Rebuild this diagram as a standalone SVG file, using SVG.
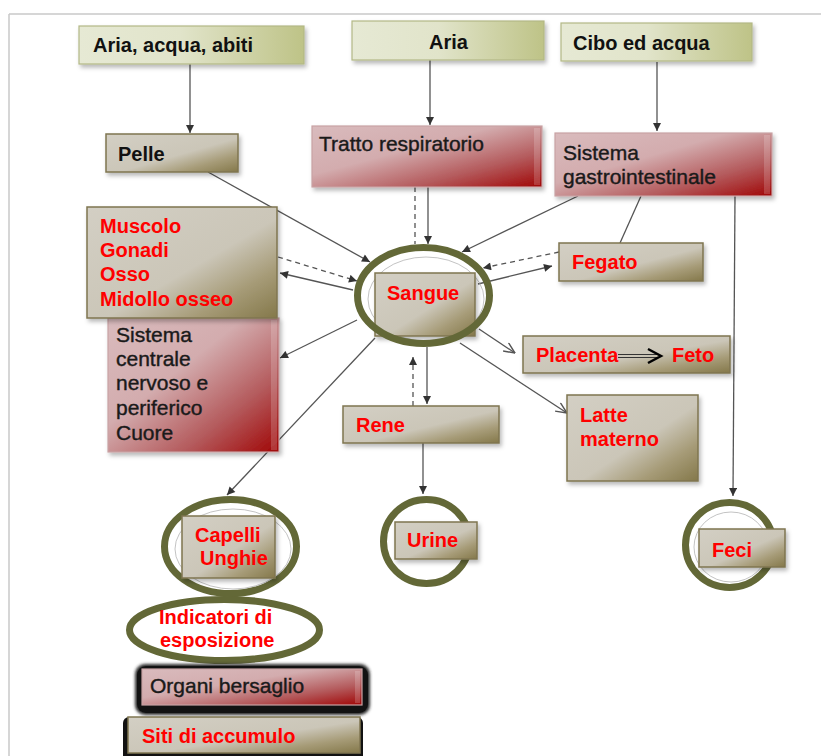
<svg xmlns="http://www.w3.org/2000/svg" width="821" height="756" viewBox="0 0 821 756">
<style>
.hd{font-family:"Liberation Sans",Arial,sans-serif;font-size:20px;font-weight:bold;fill:#111}
.rt{font-family:"Liberation Sans",Arial,sans-serif;font-size:20px;font-weight:bold;fill:#ff0000}
.bk{font-family:"Liberation Sans",Arial,sans-serif;font-size:21px;fill:#1a1a1a;stroke:#1a1a1a;stroke-width:0.4}
.green{fill:url(#gGreen);stroke:#b3b886;stroke-width:1.2}
.tan{fill:url(#gTan);stroke:#7f7550;stroke-width:1.5}
.red{fill:url(#gRed);stroke:#c9a2a4;stroke-width:1.2}
.ring{fill:none;stroke:#636837;stroke-width:7}
.inner{fill:none;stroke:#b4b4b4;stroke-width:1;opacity:0.8}
.ln{stroke:#555;stroke-width:1.3;fill:none}
.dash{stroke-dasharray:5,4}
.hl{fill:#ffffff;opacity:0.18}
</style>
<defs>
<linearGradient id="gGreen" x1="0" y1="0" x2="1" y2="0">
<stop offset="0" stop-color="#e6e9d4"/>
<stop offset="0.45" stop-color="#e1e4ca"/>
<stop offset="1" stop-color="#bec387"/>
</linearGradient>
<linearGradient id="gTan" x1="0" y1="0" x2="1" y2="1">
<stop offset="0" stop-color="#d3cfc4"/>
<stop offset="0.55" stop-color="#cbc6b8"/>
<stop offset="0.78" stop-color="#a69b77"/>
<stop offset="1" stop-color="#84784a"/>
</linearGradient>
<linearGradient id="gRed" x1="0" y1="0" x2="1" y2="1">
<stop offset="0" stop-color="#d9bbbd"/>
<stop offset="0.4" stop-color="#d3acae"/>
<stop offset="0.72" stop-color="#b45a5c"/>
<stop offset="1" stop-color="#a00505"/>
</linearGradient>
<filter id="sh" x="-10%" y="-10%" width="130%" height="140%">
<feDropShadow dx="2" dy="3" stdDeviation="2" flood-color="#000" flood-opacity="0.28"/>
</filter>
<filter id="glow" x="-10%" y="-20%" width="120%" height="140%">
<feGaussianBlur stdDeviation="1.5"/>
</filter>
<marker id="ah" viewBox="0 0 10 10" refX="10" refY="5" markerWidth="9" markerHeight="8" orient="auto" markerUnits="userSpaceOnUse">
<path d="M0,0 L10,5 L0,10 z" fill="#333"/>
</marker>
<marker id="oh" viewBox="0 0 10 10" refX="10" refY="5" markerWidth="12" markerHeight="11" orient="auto" markerUnits="userSpaceOnUse">
<path d="M0,0.5 L10,5 L0,9.5" fill="none" stroke="#555" stroke-width="1.3"/>
</marker>
</defs>

<rect x="0" y="0" width="821" height="756" fill="#ffffff"/>
<g id="frame">
<line x1="9" y1="14" x2="821" y2="14" stroke="#c8c8c8" stroke-width="1.5"/>
<line x1="9" y1="14" x2="9" y2="756" stroke="#c8c8c8" stroke-width="1.5"/>
</g>

<g id="connectors">
<path class="ln" d="M190,64 L190,133" marker-end="url(#ah)"/>
<path class="ln" d="M430,60 L430,125" marker-end="url(#ah)"/>
<path class="ln" d="M657,62 L657,131" marker-end="url(#ah)"/>
<path class="ln" d="M208,172 L370,262" marker-end="url(#ah)"/>
<path class="ln dash" d="M415,187 L415,244"/>
<path class="ln" d="M428,187 L428,244" marker-end="url(#ah)"/>
<path class="ln" d="M578,196 L462,252" marker-end="url(#ah)"/>
<path class="ln" d="M641,196 L620,243"/>
<path class="ln dash" d="M559,252 L483,268" marker-end="url(#ah)"/>
<path class="ln" d="M478,284 L552,266" marker-end="url(#ah)"/>
<path class="ln dash" d="M278,257 L357,281" marker-end="url(#ah)"/>
<path class="ln" d="M353,290 L280,273" marker-end="url(#ah)"/>
<path class="ln" d="M357,320 L280,358" marker-end="url(#ah)"/>
<path class="ln" d="M375,338 L227,495" marker-end="url(#ah)"/>
<path class="ln" d="M479,329 L515,353" marker-end="url(#oh)"/>
<path class="ln" d="M460,343 L567,413" marker-end="url(#oh)"/>
<path class="ln dash" d="M413,406 L413,357" marker-end="url(#ah)"/>
<path class="ln" d="M427,347 L427,404" marker-end="url(#ah)"/>
<path class="ln" d="M423,443 L423,494" marker-end="url(#ah)"/>
<path class="ln" d="M735,196 L733,496" marker-end="url(#ah)"/>
</g>

<g id="n-aria-acqua-abiti">
<rect class="green" x="79" y="26" width="225" height="38" filter="url(#sh)"/>
<text class="hd" x="93" y="52">Aria, acqua, abiti</text>
</g>
<g id="n-aria">
<rect class="green" x="352" y="21" width="192" height="39" filter="url(#sh)"/>
<text class="hd" x="429" y="49">Aria</text>
</g>
<g id="n-cibo">
<rect class="green" x="561" y="23" width="191" height="38" filter="url(#sh)"/>
<text class="hd" x="573" y="50">Cibo ed acqua</text>
</g>
<g id="n-pelle">
<rect class="tan" x="106" y="134" width="132" height="38" filter="url(#sh)"/>
<text class="hd" x="118" y="161">Pelle</text>
</g>
<g id="n-tratto">
<rect class="red" x="312" y="126" width="230" height="61" filter="url(#sh)"/>
<rect class="hl" x="534" y="128" width="6" height="57"/>
<text class="bk" x="319" y="151">Tratto respiratorio</text>
</g>
<g id="n-gastro">
<rect class="red" x="555" y="133" width="217" height="63" filter="url(#sh)"/>
<rect class="hl" x="764" y="135" width="6" height="59"/>
<text class="bk" x="563" y="160">Sistema</text>
<text class="bk" x="563" y="184">gastrointestinale</text>
</g>
<g id="n-snc">
<rect class="red" x="108" y="318" width="171" height="134" filter="url(#sh)"/>
<rect class="hl" x="271" y="320" width="6" height="130"/>
<text class="bk" x="116" y="342">Sistema</text>
<text class="bk" x="116" y="366">centrale</text>
<text class="bk" x="116" y="390">nervoso e</text>
<text class="bk" x="116" y="415">periferico</text>
<text class="bk" x="116" y="440">Cuore</text>
</g>
<g id="n-muscolo">
<rect class="tan" x="87" y="207" width="190" height="111" filter="url(#sh)"/>
<text class="rt" x="100" y="233">Muscolo</text>
<text class="rt" x="100" y="257">Gonadi</text>
<text class="rt" x="100" y="281">Osso</text>
<text class="rt" x="100" y="306">Midollo osseo</text>
</g>
<g id="n-sangue">
<ellipse class="inner" cx="426" cy="299" rx="58" ry="42"/>
<rect class="tan" x="375" y="273" width="100" height="63" filter="url(#sh)"/>
<ellipse class="ring" cx="423.5" cy="295.5" rx="66" ry="48"/>
<text class="rt" x="387" y="300">Sangue</text>
</g>
<g id="n-fegato">
<rect class="tan" x="559" y="243" width="144" height="38" filter="url(#sh)"/>
<text class="rt" x="572" y="269">Fegato</text>
</g>
<g id="n-placenta">
<rect class="tan" x="523" y="336" width="207" height="37" filter="url(#sh)"/>
<text class="rt" x="536" y="362">Placenta</text>
<line x1="618" y1="354.5" x2="657" y2="354.5" stroke="#333" stroke-width="1"/>
<line x1="618" y1="357.5" x2="657" y2="357.5" stroke="#333" stroke-width="1"/>
<polyline points="648,349 661,356 648,363" fill="none" stroke="#000" stroke-width="2.5"/>
<text class="rt" x="672" y="362">Feto</text>
</g>
<g id="n-rene">
<rect class="tan" x="343" y="406" width="156" height="37" filter="url(#sh)"/>
<text class="rt" x="356" y="432">Rene</text>
</g>
<g id="n-latte">
<rect class="tan" x="567" y="395" width="131" height="86" filter="url(#sh)"/>
<text class="rt" x="580" y="422">Latte</text>
<text class="rt" x="580" y="446">materno</text>
</g>
<g id="n-capelli">
<ellipse class="ring" cx="230.5" cy="546.5" rx="66" ry="47"/>
<ellipse class="inner" cx="233" cy="549" rx="58" ry="40"/>
<rect class="tan" x="182" y="516" width="93" height="62" filter="url(#sh)"/>
<text class="rt" x="195" y="542">Capelli</text>
<text class="rt" x="200" y="565">Unghie</text>
</g>
<g id="n-urine">
<ellipse class="ring" cx="426.5" cy="541.5" rx="43" ry="42"/>
<rect class="tan" x="395" y="522" width="82" height="37" filter="url(#sh)"/>
<text class="rt" x="407" y="547">Urine</text>
</g>
<g id="n-feci">
<ellipse class="ring" cx="729.5" cy="545" rx="44" ry="42.5"/>
<ellipse class="inner" cx="731" cy="547" rx="37" ry="35"/>
<rect class="tan" x="699" y="529" width="86" height="38" filter="url(#sh)"/>
<text class="rt" x="712" y="557">Feci</text>
</g>
<g id="n-indicatori">
<ellipse cx="224.5" cy="630" rx="95" ry="30.5" fill="#ffffff" stroke="#636837" stroke-width="7"/>
<text class="rt" x="159" y="624">Indicatori di</text>
<text class="rt" x="160" y="647">esposizione</text>
</g>
<g id="n-organi">
<rect x="135" y="664" width="235" height="51" rx="10" fill="#2a2a2a" filter="url(#glow)"/>
<rect x="137" y="666" width="231" height="47" rx="9" fill="#121212"/>
<rect class="red" x="142" y="669" width="220" height="36"/>
<rect class="hl" x="355" y="671" width="5" height="32"/>
<text class="bk" x="150" y="693">Organi bersaglio</text>
</g>
<g id="n-siti">
<rect x="123" y="717" width="240" height="45" rx="6" fill="#121212"/>
<rect class="tan" x="128" y="717" width="232" height="36"/>
<text class="rt" x="142" y="743">Siti di accumulo</text>
</g>
</svg>
